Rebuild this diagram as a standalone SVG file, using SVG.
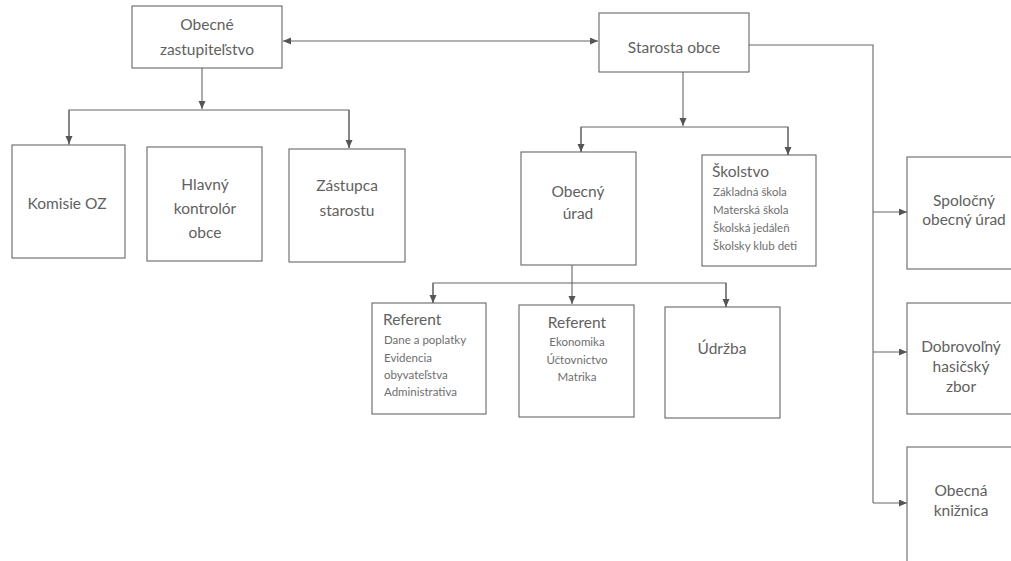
<svg xmlns="http://www.w3.org/2000/svg" width="1011" height="561" viewBox="0 0 1011 561">
<style>
  .box { fill: #ffffff; stroke: #666666; stroke-width: 1.1; }
  .t { font-family: Lato, "Liberation Sans", sans-serif; font-size: 15.5px; fill: #616161; text-anchor: middle; }
  .tl { font-family: Lato, "Liberation Sans", sans-serif; font-size: 15.5px; fill: #616161; }
  .s { font-family: Lato, "Liberation Sans", sans-serif; font-size: 11.5px; fill: #6e6e6e; }
  .sc { text-anchor: middle; }
  .c { fill: none; stroke: #666666; stroke-width: 1.1; }
</style>
<defs>
  <marker id="ah" markerUnits="userSpaceOnUse" markerWidth="9" markerHeight="8" refX="8" refY="3.5" orient="auto-start-reverse">
    <path d="M0,0 L8,3.5 L0,7 z" fill="#555555"/>
  </marker>
</defs>
<rect width="1011" height="561" fill="#ffffff"/>

<g id="connectors">
  <line class="c" x1="283" y1="41" x2="598" y2="41" marker-start="url(#ah)" marker-end="url(#ah)"/>
  <line class="c" x1="202" y1="68" x2="202" y2="109" marker-end="url(#ah)"/>
  <polyline class="c" points="69,145 69,110 349,110 349,148"/>
  <line class="c" x1="69" y1="110" x2="69" y2="144" marker-end="url(#ah)"/>
  <line class="c" x1="349" y1="110" x2="349" y2="148" marker-end="url(#ah)"/>
  <line class="c" x1="683" y1="72" x2="683" y2="126" marker-end="url(#ah)"/>
  <polyline class="c" points="581,152 581,127 788,127 788,155"/>
  <line class="c" x1="581" y1="127" x2="581" y2="152" marker-end="url(#ah)"/>
  <line class="c" x1="788" y1="127" x2="788" y2="155" marker-end="url(#ah)"/>
  <polyline class="c" points="749,45 873,45 873,503"/>
  <line class="c" x1="873" y1="212" x2="907" y2="212" marker-end="url(#ah)"/>
  <line class="c" x1="873" y1="352" x2="907" y2="352" marker-end="url(#ah)"/>
  <line class="c" x1="873" y1="503" x2="907" y2="503" marker-end="url(#ah)"/>
  <line class="c" x1="572" y1="265" x2="572" y2="304" marker-end="url(#ah)"/>
  <polyline class="c" points="433,303 433,283 726,283 726,307"/>
  <line class="c" x1="433" y1="283" x2="433" y2="303" marker-end="url(#ah)"/>
  <line class="c" x1="726" y1="283" x2="726" y2="307" marker-end="url(#ah)"/>
</g>

<g id="obecne-zastupitelstvo">
  <rect class="box" x="132" y="6" width="150" height="62"/>
  <text class="t" x="207" y="30">Obecné</text>
  <text class="t" x="207" y="55">zastupiteľstvo</text>
</g>
<g id="starosta-obce">
  <rect class="box" x="599" y="13" width="150" height="59"/>
  <text class="t" x="674" y="53">Starosta obce</text>
</g>
<g id="komisie-oz">
  <rect class="box" x="12" y="145" width="113" height="113"/>
  <text class="t" x="67" y="209">Komisie OZ</text>
</g>
<g id="hlavny-kontrolor">
  <rect class="box" x="147" y="147" width="115" height="114"/>
  <text class="t" x="205" y="190">Hlavný</text>
  <text class="t" x="205" y="214">kontrolór</text>
  <text class="t" x="205" y="238">obce</text>
</g>
<g id="zastupca-starostu">
  <rect class="box" x="289" y="149" width="116" height="113"/>
  <text class="t" x="347" y="191">Zástupca</text>
  <text class="t" x="347" y="216">starostu</text>
</g>
<g id="obecny-urad">
  <rect class="box" x="521" y="152" width="115" height="113"/>
  <text class="t" x="578" y="197">Obecný</text>
  <text class="t" x="578" y="219">úrad</text>
</g>
<g id="skolstvo">
  <rect class="box" x="702" y="155" width="114" height="111"/>
  <text class="tl" x="712" y="177">Školstvo</text>
  <text class="s" x="713" y="196">Základná škola</text>
  <text class="s" x="713" y="214">Materská škola</text>
  <text class="s" x="713" y="232">Školská jedáleň</text>
  <text class="s" x="713" y="250">Školsky klub deti</text>
</g>
<g id="referent-1">
  <rect class="box" x="372" y="303" width="114" height="111"/>
  <text class="tl" x="383" y="325">Referent</text>
  <text class="s" x="384" y="344">Dane a poplatky</text>
  <text class="s" x="384" y="362">Evidencia</text>
  <text class="s" x="384" y="379">obyvateľstva</text>
  <text class="s" x="384" y="396">Administrativa</text>
</g>
<g id="referent-2">
  <rect class="box" x="519" y="305" width="115" height="112"/>
  <text class="t" x="577" y="328">Referent</text>
  <text class="s sc" x="577" y="346">Ekonomika</text>
  <text class="s sc" x="577" y="364">Účtovnictvo</text>
  <text class="s sc" x="577" y="381">Matrika</text>
</g>
<g id="udrzba">
  <rect class="box" x="665" y="307" width="115" height="111"/>
  <text class="t" x="722" y="354">Údržba</text>
</g>
<g id="spolocny-obecny-urad">
  <rect class="box" x="907" y="157" width="112" height="112"/>
  <text class="t" x="964" y="206">Spoločný</text>
  <text class="t" x="964" y="225">obecný úrad</text>
</g>
<g id="dobrovolny-hasicsky-zbor">
  <rect class="box" x="907" y="303" width="112" height="111"/>
  <text class="t" x="961" y="352">Dobrovoľný</text>
  <text class="t" x="961" y="372">hasičský</text>
  <text class="t" x="961" y="392">zbor</text>
</g>
<g id="obecna-kniznica">
  <rect class="box" x="907" y="447" width="112" height="118"/>
  <text class="t" x="961" y="496">Obecná</text>
  <text class="t" x="961" y="516">knižnica</text>
</g>
</svg>
